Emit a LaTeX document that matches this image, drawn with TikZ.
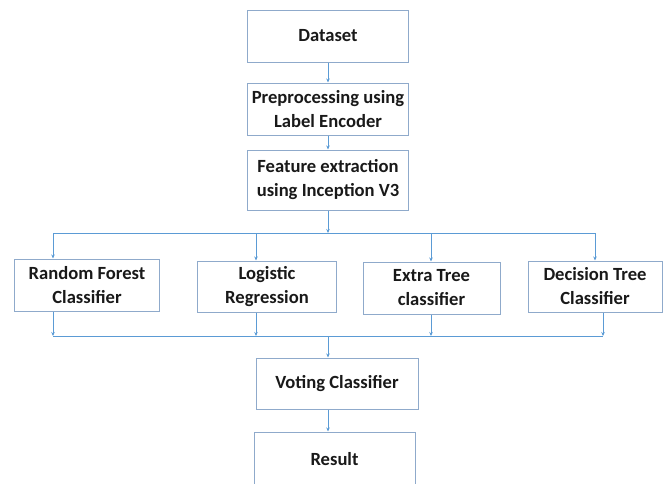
\documentclass[tikz,border=0pt]{standalone}
\usepackage{fontspec}
\setmainfont{Carlito}
\usetikzlibrary{arrows.meta}

\definecolor{linkblue}{HTML}{5B9BD5}
\definecolor{boxline}{HTML}{8FAACB}

\tikzset{
  stage/.style={draw=boxline, line width=1pt, fill=white, align=center,
    font=\fontsize{18.6}{24}\selectfont\bfseries, text=black!90, inner sep=1pt},
  link/.style={draw=linkblue, line width=0.9pt, -{Stealth[length=4pt,width=3.5pt]}},
  bus/.style={draw=linkblue, line width=0.9pt}
}

\begin{document}
\begin{tikzpicture}[x=1pt,y=-1pt]
\useasboundingbox (0,0) rectangle (667,483);
\clip (0,0) rectangle (667,483);

\node[stage, minimum width=161pt, minimum height=52pt] (data) at (328,36) {Dataset};
\node[stage, minimum width=161pt, minimum height=52pt] (prep) at (328,109) {Preprocessing using\\Label Encoder};
\node[stage, minimum width=161pt, minimum height=60pt] (feat) at (328,180) {Feature extraction\\using Inception V3};

\node[stage, minimum width=145pt, minimum height=52pt] (rf) at (87,285) {Random Forest\\Classifier};
\node[stage, minimum width=139pt, minimum height=51pt] (lr) at (267,286.5) {Logistic\\Regression};
\node[stage, minimum width=137pt, minimum height=52pt] (et) at (431.5,288) {Extra Tree\\classifier};
\node[stage, minimum width=134pt, minimum height=51pt] (dt) at (595,286.5) {Decision Tree\\Classifier};

\node[stage, minimum width=162pt, minimum height=51pt] (vote) at (337,383.5) {Voting Classifier};
\node[stage, minimum width=161pt, minimum height=54pt] (res) at (334.5,459) {Result};

% split and merge lines
\coordinate (splitL) at (53,233);
\coordinate (splitR) at (595,233);
\coordinate (mergeL) at (53,336);
\coordinate (mergeR) at (603,336);

\draw[link] (data.south) -- (prep.north);
\draw[link] (prep.south) -- (feat.north);
\draw[link] (feat.south) -- (feat.south |- splitL);
\draw[bus] (splitL) -- (splitR);
\draw[link] (splitL) -- (splitL |- rf.north);
\draw[link] (256,233) -- (256,0 |- lr.north);
\draw[link] (431,233) -- (431,0 |- et.north);
\draw[link] (splitR) -- (splitR |- dt.north);

\draw[link] (mergeL |- rf.south) -- (mergeL);
\draw[link] (256,0 |- lr.south) -- (256,336);
\draw[link] (431,0 |- et.south) -- (431,336);
\draw[link] (mergeR |- dt.south) -- (mergeR);
\draw[bus] (mergeL) -- (mergeR);
\draw[link] (328,336) -- (328,0 |- vote.north);
\draw[link] (328,0 |- vote.south) -- (328,0 |- res.north);
\end{tikzpicture}
\end{document}
